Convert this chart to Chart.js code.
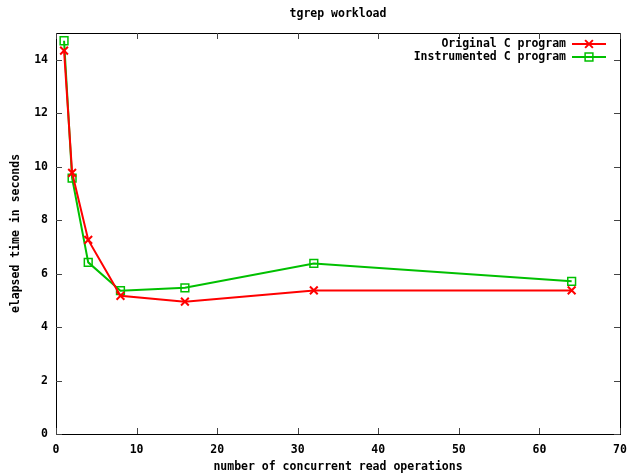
<!DOCTYPE html>
<html>
<head>
<meta charset="utf-8">
<script src="https://cdn.jsdelivr.net/npm/chart.js@4"></script>
<style>
  html, body { margin: 0; padding: 0; background: #fff; }
  #wrap { width: 629px; height: 474px; }
</style>
</head>
<body>
<div id="wrap"><canvas id="tgrepChart" width="629" height="474"></canvas></div>
<script>
const readOps = [1, 2, 4, 8, 16, 32, 64];
const originalTimes = [14.34, 9.77, 7.26, 5.17, 4.95, 5.37, 5.37];
const instrumentedTimes = [14.71, 9.57, 6.42, 5.36, 5.47, 6.38, 5.71];
const seriesNames = ['Original C program', 'Instrumented C program'];
const chartTitle = 'tgrep workload';

const FONT = '"DejaVu Sans Mono", "Liberation Mono", monospace';

// gnuplot look: boxed frame, ticks pointing inwards on all four sides
const gnuplotFrame = {
  id: 'gnuplotFrame',
  afterDatasetsDraw(chart) {
    const { ctx, chartArea: a, scales } = chart;
    ctx.save();
    ctx.strokeStyle = '#000';
    ctx.lineWidth = 1;
    ctx.strokeRect(a.left + 0.5, a.top + 0.5, a.right - a.left, a.bottom - a.top);
    ctx.strokeStyle = '#444';
    ctx.beginPath();
    scales.x.ticks.forEach(t => {
      const px = Math.round(scales.x.getPixelForValue(t.value)) + 0.5;
      ctx.moveTo(px, a.bottom); ctx.lineTo(px, a.bottom - 6);
      ctx.moveTo(px, a.top); ctx.lineTo(px, a.top + 6);
    });
    scales.y.ticks.forEach(t => {
      const py = Math.round(scales.y.getPixelForValue(t.value)) + 0.5;
      ctx.moveTo(a.left, py); ctx.lineTo(a.left + 6, py);
      ctx.moveTo(a.right, py); ctx.lineTo(a.right - 6, py);
    });
    ctx.stroke();
    ctx.restore();
  },
  afterDraw(chart) {
    const { ctx, chartArea: a } = chart;
    ctx.save();
    ctx.font = 'bold 11.5px ' + FONT;
    ctx.fillStyle = '#000';
    ctx.textBaseline = 'middle';
    // title
    ctx.textAlign = 'center';
    ctx.fillText(chartTitle, (a.left + a.right) / 2, 14);
    // key, top right inside the frame
    ctx.textAlign = 'right';
    chart.data.datasets.forEach((ds, i) => {
      const y = a.top + 11 + i * 13;
      const textRight = a.right - 54;
      ctx.fillStyle = '#000';
      ctx.fillText(ds.label, textRight, y);
      ctx.strokeStyle = ds.borderColor;
      ctx.lineWidth = ds.borderWidth;
      ctx.beginPath();
      ctx.moveTo(textRight + 6, y);
      ctx.lineTo(textRight + 40, y);
      ctx.stroke();
      ctx.lineWidth = ds.pointBorderWidth;
      ctx.fillStyle = 'rgba(0,0,0,0)';
      Chart.helpers.drawPoint(ctx, {
        pointStyle: ds.pointStyle, radius: ds.pointRadius, rotation: 0, borderWidth: ds.pointBorderWidth
      }, textRight + 23, y);
    });
    ctx.restore();
  }
};

new Chart(document.getElementById('tgrepChart').getContext('2d'), {
  type: 'line',
  data: {
    datasets: [
      {
        label: seriesNames[0],
        data: readOps.map((x, i) => ({ x, y: originalTimes[i] })),
        borderColor: '#ff0000',
        borderWidth: 2,
        pointStyle: 'crossRot',
        pointRadius: 5.5,
        pointBorderWidth: 2,
        pointBorderColor: '#ff0000',
        pointBackgroundColor: 'rgba(0,0,0,0)',
        fill: false,
        tension: 0,
      },
      {
        label: seriesNames[1],
        data: readOps.map((x, i) => ({ x, y: instrumentedTimes[i] })),
        borderColor: '#00c000',
        borderWidth: 2,
        pointStyle: 'rect',
        pointRadius: 5.5,
        pointBorderWidth: 1.5,
        pointBorderColor: '#00c000',
        pointBackgroundColor: 'rgba(0,0,0,0)',
        fill: false,
        tension: 0,
      },
    ],
  },
  options: {
    responsive: false,
    animation: false,
    layout: { padding: { top: 33, right: 9, left: 0, bottom: 0 } },
    plugins: {
      legend: { display: false },
      title: { display: false },
      tooltip: { enabled: false },
    },
    scales: {
      x: {
        type: 'linear',
        min: 0,
        max: 70,
        afterFit: s => { s.height = 40; s.paddingLeft = 0; s.paddingRight = 0; },
        grid: { display: true, drawOnChartArea: false, drawTicks: false },
        border: { display: true, color: '#000' },
        ticks: { stepSize: 10, padding: 9, color: '#000', maxRotation: 0, font: { family: FONT, size: 11.5, weight: 'bold' } },
        title: { display: true, text: 'number of concurrent read operations', color: '#000', padding: { top: 4, bottom: 0 }, font: { family: FONT, size: 11.5, weight: 'bold' } },
      },
      y: {
        min: 0,
        max: 15,
        afterFit: s => { s.width = 56; s.paddingTop = 0; s.paddingBottom = 0; },
        grid: { display: true, drawOnChartArea: false, drawTicks: false },
        border: { display: true, color: '#000' },
        ticks: { stepSize: 2, includeBounds: false, padding: 8, color: '#000', font: { family: FONT, size: 11.5, weight: 'bold' } },
        title: { display: true, text: 'elapsed time in seconds', color: '#000', padding: { top: 9, bottom: 0 }, font: { family: FONT, size: 11.5, weight: 'bold' } },
      },
    },
  },
  plugins: [gnuplotFrame],
});
</script>
</body>
</html>
